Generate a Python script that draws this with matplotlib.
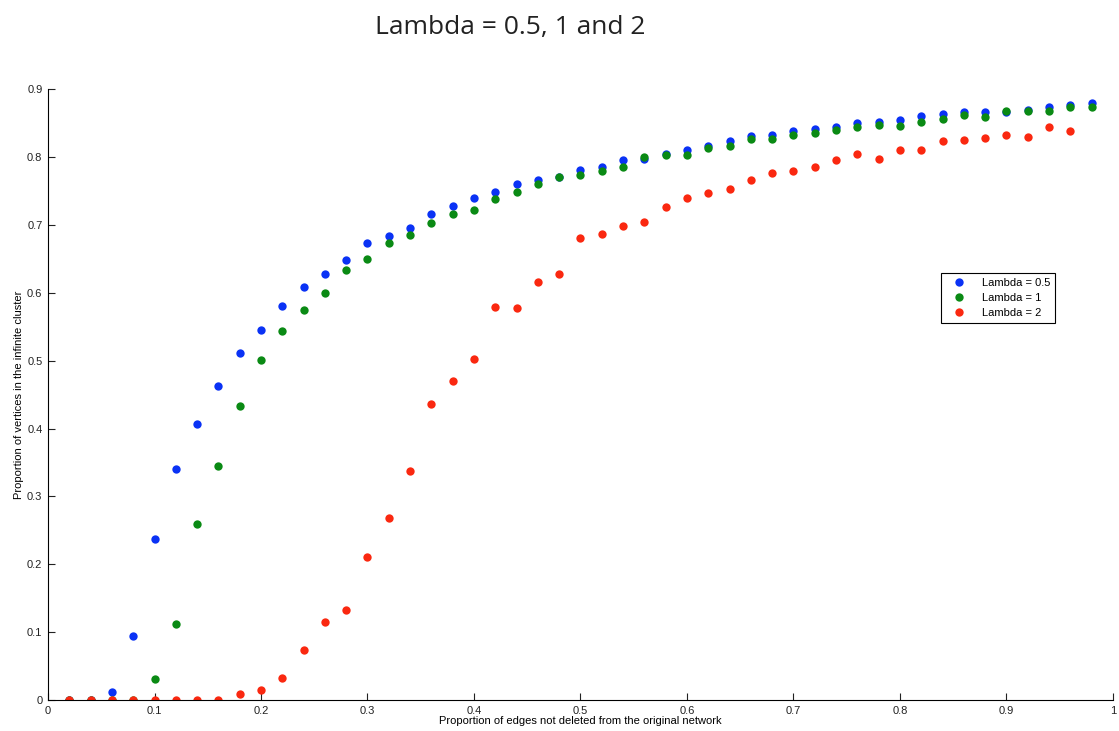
import numpy as np
import matplotlib
matplotlib.use("Agg")
import matplotlib.pyplot as plt

# proportion of edges kept (x) and proportion in infinite cluster (y)
x_blue = [0.02,0.04,0.06,0.08,0.10,0.12,0.14,0.16,0.18,0.20,0.22,0.24,0.26,0.28,0.30,0.32,0.34,0.36,0.38,0.40,
          0.42,0.44,0.46,0.48,0.50,0.52,0.54,0.56,0.58,0.60,0.62,0.64,0.66,0.68,0.70,0.72,0.74,0.76,0.78,0.80,
          0.82,0.84,0.86,0.88,0.90,0.92,0.94,0.96,0.98]
lam_05 = [0.0,0.0,0.012,0.094,0.237,0.340,0.407,0.463,0.511,0.545,0.580,0.608,0.628,0.649,0.673,0.684,0.696,0.716,0.728,0.739,
          0.749,0.760,0.766,0.770,0.781,0.786,0.796,0.797,0.804,0.810,0.817,0.824,0.831,0.832,0.838,0.842,0.844,0.850,0.852,0.854,
          0.860,0.864,0.867,0.866,0.867,0.869,0.874,0.876,0.880]
lam_1 = [0.0,0.0,0.0,0.0,0.031,0.112,0.259,0.345,0.433,0.501,0.543,0.575,0.600,0.633,0.650,0.674,0.685,0.703,0.716,0.722,
         0.738,0.748,0.760,0.770,0.773,0.780,0.786,0.800,0.803,0.803,0.813,0.817,0.826,0.827,0.832,0.835,0.840,0.844,0.847,0.846,
         0.851,0.856,0.862,0.859,0.868,0.868,0.868,0.874,0.874]
x_red = x_blue[:-1]
lam_2 = [0.0,0.0,0.0,0.0,0.0,0.0,0.0,0.0,0.009,0.015,0.033,0.073,0.115,0.133,0.211,0.268,0.337,0.436,0.470,0.502,
         0.579,0.578,0.616,0.628,0.680,0.687,0.698,0.704,0.726,0.739,0.747,0.753,0.766,0.776,0.780,0.785,0.795,0.804,0.797,0.811,
         0.810,0.823,0.825,0.828,0.833,0.830,0.844,0.839]

narrow = ['Liberation Sans Narrow', 'Liberation Sans', 'DejaVu Sans']

fig = plt.figure(figsize=(11.19, 7.31), dpi=100)
ax = fig.add_axes([0.0429, 0.0424, 0.9517, 0.8356])

ax.plot(x_blue, lam_05, 'o', color='#0a32f5', markersize=6, markeredgewidth=0, label='Lambda = 0.5')
ax.plot(x_blue, lam_1, 'o', color='#0a8a14', markersize=6, markeredgewidth=0, label='Lambda = 1')
ax.plot(x_red, lam_2, 'o', color='#fa2810', markersize=6, markeredgewidth=0, label='Lambda = 2')

ax.set_xlim(0, 1)
ax.set_ylim(0, 0.9)
ax.set_xticks(np.arange(0, 1.01, 0.1))
ax.set_yticks(np.arange(0, 0.91, 0.1))
ax.set_xticklabels(['0', '0.1', '0.2', '0.3', '0.4', '0.5', '0.6', '0.7', '0.8', '0.9', '1'])
ax.set_yticklabels(['0', '0.1', '0.2', '0.3', '0.4', '0.5', '0.6', '0.7', '0.8', '0.9'])
ax.spines['top'].set_visible(False)
ax.spines['right'].set_visible(False)
ax.tick_params(direction='in', length=5, width=0.8, labelsize=8, colors='#222222', pad=4)
for lab in ax.get_xticklabels() + ax.get_yticklabels():
    lab.set_family(narrow)

ax.set_xlabel('Proportion of edges not deleted from the original network', family=narrow, fontsize=8, labelpad=0)
ax.set_ylabel('Proportion of vertices in the infinite cluster', family=narrow, fontsize=8, labelpad=2)

leg = ax.legend(loc='upper right', bbox_to_anchor=(0.951, 0.708), prop={'family': narrow, 'size': 8},
                fancybox=False, edgecolor='black', framealpha=1, borderpad=0.45, handletextpad=1.0,
                labelspacing=0.45, handlelength=2.2)
leg.get_frame().set_linewidth(0.8)

fig.text(0.456, 0.963, 'Lambda = 0.5, 1 and 2', ha='center', va='center', fontsize=19,
         family=['Open Sans', 'DejaVu Sans'], color='#222222')

fig.savefig('out.png', dpi=100)
